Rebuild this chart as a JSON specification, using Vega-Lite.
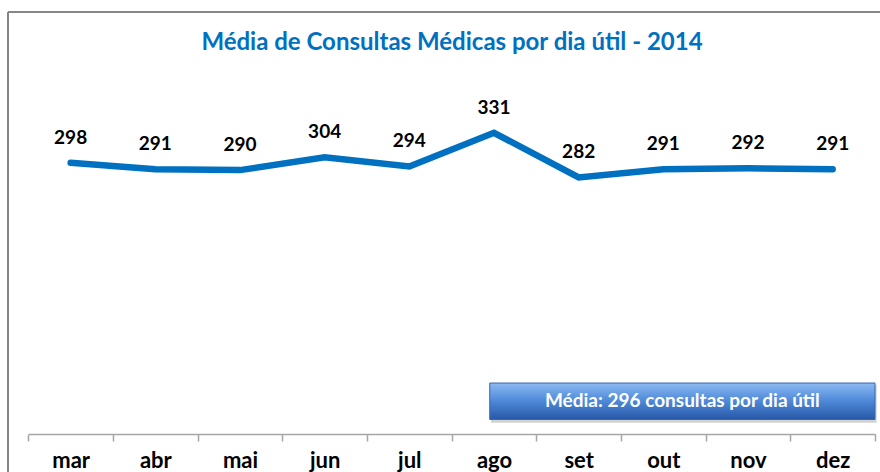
{
  "$schema": "https://vega.github.io/schema/vega-lite/v6.json",
  "width": 872,
  "height": 460,
  "autosize": "none",
  "padding": {"left": 8, "top": 12, "right": 0, "bottom": 0},
  "background": "white",
  "config": {
    "font": "Lato",
    "view": {"stroke": "#868686", "strokeWidth": 2, "strokeDash": [872, 1332, 460, 0]}
  },
  "title": {
    "text": "Média de Consultas Médicas por dia útil - 2014",
    "font": "Lato",
    "fontSize": 24,
    "fontWeight": "bold",
    "color": "#0070C0",
    "anchor": "middle",
    "frame": "group",
    "baseline": "alphabetic",
    "offset": -62,
    "dx": 8
  },
  "layer": [
    {
      "data": {
        "values": [
          {"mes": "mar", "valor": 298},
          {"mes": "abr", "valor": 291},
          {"mes": "mai", "valor": 290},
          {"mes": "jun", "valor": 304},
          {"mes": "jul", "valor": 294},
          {"mes": "ago", "valor": 331},
          {"mes": "set", "valor": 282},
          {"mes": "out", "valor": 291},
          {"mes": "nov", "valor": 292},
          {"mes": "dez", "valor": 291}
        ]
      },
      "encoding": {
        "x": {
          "field": "mes",
          "type": "ordinal",
          "sort": null,
          "scale": {"type": "band", "range": [20.3, 867], "paddingInner": 0, "paddingOuter": 0},
          "axis": {
            "title": null,
            "orient": "bottom",
            "offset": -38,
            "grid": false,
            "domainColor": "#a6a6a6",
            "domainWidth": 1.5,
            "tickColor": "#a6a6a6",
            "tickWidth": 1.5,
            "tickSize": 7,
            "tickBand": "extent",
            "labelAngle": 0,
            "labelFont": "Lato",
            "labelFontSize": 22,
            "labelFontWeight": "bold",
            "labelColor": "#000000",
            "labelPadding": 9,
            "labelBaseline": "top"
          }
        },
        "y": {
          "field": "valor",
          "type": "quantitative",
          "scale": {"domain": [0, 400], "range": [422, 58], "nice": false, "zero": true},
          "axis": null
        }
      },
      "layer": [
        {
          "mark": {"type": "line", "color": "#0070C0", "strokeWidth": 6.5, "strokeCap": "round", "strokeJoin": "miter"}
        },
        {
          "mark": {"type": "text", "font": "Lato", "fontSize": 19, "fontWeight": "bold", "color": "#000000", "baseline": "alphabetic", "dy": -19},
          "encoding": {"text": {"field": "valor", "type": "quantitative"}}
        }
      ]
    },
    {
      "data": {"values": [{"texto": "Média: 296 consultas por dia útil"}]},
      "encoding": {
        "x": {"datum": 5.45, "type": "quantitative", "scale": {"domain": [0, 10], "range": [20.3, 867], "nice": false, "zero": false}, "axis": null}
      },
      "layer": [
        {
          "mark": {"type": "rect", "fill": "#7f7f7f", "opacity": 0.35},
          "encoding": {
            "x": {"datum": 5.465, "type": "quantitative"},
            "x2": {"datum": 10.02},
            "y": {"datum": 54, "type": "quantitative"},
            "y2": {"datum": 12.5}
          }
        },
        {
          "mark": {
            "type": "rect",
            "stroke": "#3566ae",
            "strokeWidth": 1,
            "fill": {
              "gradient": "linear",
              "x1": 0, "y1": 0, "x2": 0, "y2": 1,
              "stops": [
                {"offset": 0, "color": "#8dbbf2"},
                {"offset": 0.45, "color": "#528cda"},
                {"offset": 1, "color": "#2659a8"}
              ]
            }
          },
          "encoding": {
            "x": {"datum": 5.45, "type": "quantitative"},
            "x2": {"datum": 10},
            "y": {"datum": 56, "type": "quantitative"},
            "y2": {"datum": 16}
          }
        },
        {
          "mark": {"type": "text", "font": "Lato", "fontSize": 19, "fontWeight": "bold", "color": "#ffffff", "align": "center", "baseline": "middle"},
          "encoding": {
            "x": {"datum": 7.725, "type": "quantitative"},
            "y": {"datum": 36, "type": "quantitative"},
            "text": {"field": "texto", "type": "nominal"}
          }
        }
      ]
    }
  ],
  "resolve": {"scale": {"x": "independent"}}
}
